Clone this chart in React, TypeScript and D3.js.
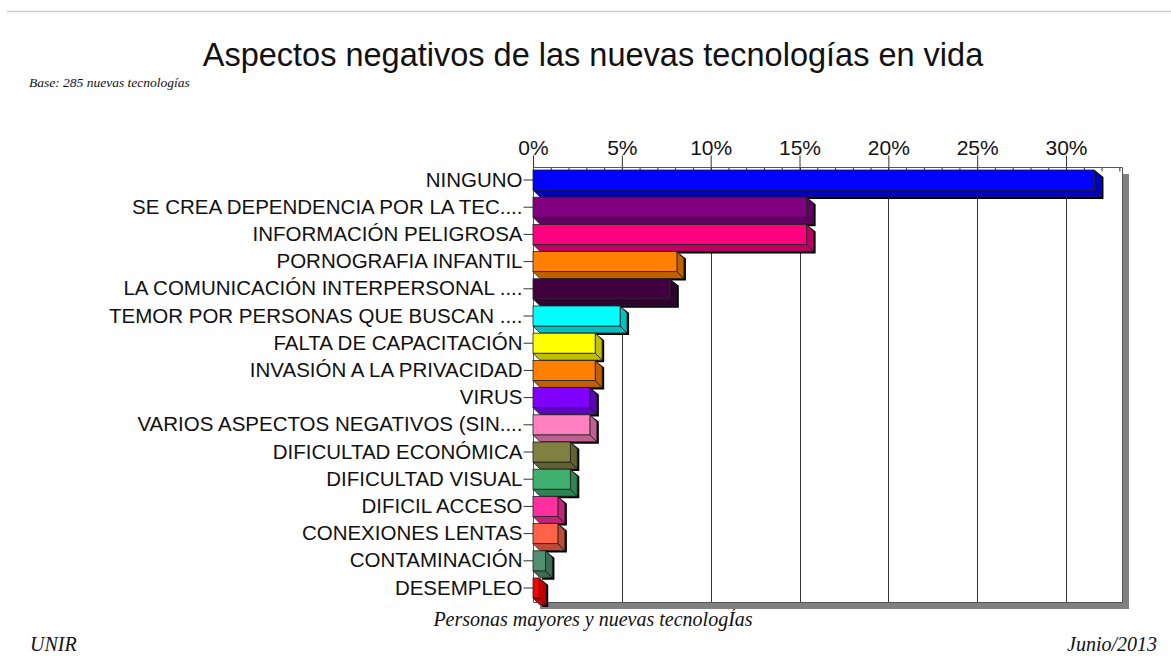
import { useEffect, useRef } from 'react';
import * as d3 from 'd3';

const categories = [
  'NINGUNO',
  'SE CREA DEPENDENCIA POR LA TEC....',
  'INFORMACIÓN PELIGROSA',
  'PORNOGRAFIA INFANTIL',
  'LA COMUNICACIÓN INTERPERSONAL ....',
  'TEMOR POR PERSONAS QUE BUSCAN ....',
  'FALTA DE CAPACITACIÓN',
  'INVASIÓN A LA PRIVACIDAD',
  'VIRUS',
  'VARIOS ASPECTOS NEGATIVOS (SIN....',
  'DIFICULTAD ECONÓMICA',
  'DIFICULTAD VISUAL',
  'DIFICIL ACCESO',
  'CONEXIONES LENTAS',
  'CONTAMINACIÓN',
  'DESEMPLEO',
];
const values = [31.6, 15.4, 15.4, 8.1, 7.7, 4.9, 3.5, 3.5, 3.2, 3.2, 2.1, 2.1, 1.4, 1.4, 0.7, 0.35];
const faceColors = [
  '#0000ff', '#800080', '#ff0080', '#ff8000', '#400040', '#00ffff', '#ffff00', '#ff8000',
  '#8000ff', '#ff80c0', '#808040', '#40b070', '#ff2f9f', '#ff6347', '#509070', '#ff0000',
];
const majorTicks = [0, 5, 10, 15, 20, 25, 30];
const minorTicks = d3.range(0, 34);

const width = 1171;
const height = 666;
const plot = { left: 533, right: 1122, top: 167, bottom: 602 };
const depth = 7;
const serif = '"Liberation Serif", serif';
const sans = '"Liberation Sans", sans-serif';

const App = () => {
  const svgRef = useRef<SVGSVGElement>(null);

  useEffect(() => {
    const svg = d3.select(svgRef.current);
    svg.selectAll('*').remove();

    const x = d3.scaleLinear().domain([0, 33.15]).range([plot.left, plot.right]);
    const y = d3.scaleBand().domain(categories).range([plot.top - 0.6, plot.bottom - 0.4]).paddingInner(7.2 / 27.2).paddingOuter(3.6 / 27.2);

    const text = (tx: number, ty: number, s: string, size: number, family: string, anchor = 'start', italic = false) =>
      svg.append('text')
        .attr('x', tx)
        .attr('y', ty)
        .attr('text-anchor', anchor)
        .attr('font-family', family)
        .attr('font-size', size)
        .attr('font-style', italic ? 'italic' : 'normal')
        .attr('fill', '#111')
        .text(s);

    svg.append('line')
      .attr('x1', 7).attr('x2', width).attr('y1', 11.5).attr('y2', 11.5)
      .attr('stroke', '#c8c8e0').attr('stroke-width', 1.5);

    text(593, 66, 'Aspectos negativos de las nuevas tecnologías en vida', 32.5, sans, 'middle');
    text(29, 87, 'Base: 285 nuevas tecnologías', 13.5, serif, 'start', true);
    text(593, 626, 'Personas mayores y nuevas tecnologÍas', 20, serif, 'middle', true);
    text(30, 651, 'UNIR', 20, serif, 'start', true);
    text(1157, 651, 'Junio/2013', 20, serif, 'end', true);

    // gray drop shadow of the plot area
    svg.append('rect')
      .attr('x', plot.right).attr('y', 174)
      .attr('width', 7).attr('height', plot.bottom + 7 - 174)
      .attr('fill', '#808080');
    svg.append('rect')
      .attr('x', plot.left + 7).attr('y', plot.bottom)
      .attr('width', plot.right - plot.left).attr('height', 7)
      .attr('fill', '#808080');

    // gridlines
    svg.append('g').selectAll('line').data(majorTicks.slice(1)).join('line')
      .attr('x1', d => Math.round(x(d)) + 0.5).attr('x2', d => Math.round(x(d)) + 0.5)
      .attr('y1', plot.top).attr('y2', plot.bottom)
      .attr('stroke', '#333');

    svg.append('path')
      .attr('d', `M${plot.left + 0.5},${plot.bottom + 0.5}H${plot.right + 0.5}V${plot.top + 0.5}`)
      .attr('fill', 'none').attr('stroke', '#555');

    // top axis: long ticks with labels, short unlabelled ticks every 1%
    const minorAxis = svg.append('g')
      .attr('transform', `translate(0,${plot.top + 0.5})`)
      .call(d3.axisBottom(x).tickValues(minorTicks).tickSize(4).tickFormat(() => ''));
    minorAxis.select('.domain').remove();
    minorAxis.selectAll('line').attr('stroke', '#333');

    const topAxis = svg.append('g')
      .attr('transform', `translate(0,${plot.top + 0.5})`)
      .call(d3.axisTop(x).tickValues(majorTicks).tickSize(12).tickPadding(1).tickFormat(d => `${d}%`));
    topAxis.select('.domain')
      .attr('d', `M${plot.left},0H${plot.right + 0.5}`)
      .attr('stroke', '#555');
    topAxis.selectAll('line').attr('stroke', '#333');
    topAxis.selectAll('text')
      .attr('font-family', sans).attr('font-size', 21).attr('fill', '#111');

    // left axis
    const leftAxis = svg.append('g')
      .attr('transform', `translate(${plot.left + 0.5},0)`)
      .call(d3.axisLeft(y).tickSize(10).tickPadding(1));
    leftAxis.select('.domain')
      .attr('d', `M0,${plot.top}V${plot.bottom}`)
      .attr('stroke', '#555');
    leftAxis.selectAll('line').attr('stroke', '#333');
    leftAxis.selectAll('text')
      .attr('font-family', sans).attr('font-size', 20.5).attr('fill', '#111');

    // 3D bars
    const rows = categories.map((c, i) => ({ c, v: values[i], color: faceColors[i] }));
    const bars = svg.append('g').selectAll('g').data(rows).join('g');
    const x0 = x(0);
    const box = (d: { c: string; v: number }) => {
      const top = y(d.c)!;
      return { top, bottom: top + y.bandwidth(), end: x(d.v) };
    };
    const darker = (c: string) => d3.rgb(c).darker(0.8).formatHex();

    bars.append('path')
      .attr('d', d => {
        const b = box(d);
        return `M${b.end + depth + 2},${b.top + depth}V${b.bottom + depth + 2}H${x0 + depth + 2}V${b.bottom}H${b.end}V${b.top}Z`;
      })
      .attr('fill', '#000');
    bars.append('path')
      .attr('d', d => {
        const b = box(d);
        return `M${x0},${b.bottom}L${x0 + depth},${b.bottom + depth}H${b.end + depth}L${b.end},${b.bottom}Z`;
      })
      .attr('fill', d => darker(d.color)).attr('stroke', '#222').attr('stroke-width', 0.8);
    bars.append('path')
      .attr('d', d => {
        const b = box(d);
        return `M${b.end},${b.top}L${b.end + depth},${b.top + depth}V${b.bottom + depth}L${b.end},${b.bottom}Z`;
      })
      .attr('fill', d => darker(d.color)).attr('stroke', '#222').attr('stroke-width', 0.8);
    bars.append('rect')
      .attr('x', x0)
      .attr('y', d => box(d).top)
      .attr('width', d => box(d).end - x0)
      .attr('height', y.bandwidth())
      .attr('fill', d => d.color).attr('stroke', '#222').attr('stroke-width', 0.8);
  }, []);

  return (
    <svg
      ref={svgRef}
      width={width}
      height={height}
      style={{ position: 'absolute', left: 0, top: 0, background: '#fff' }}
    />
  );
};

export default App;
